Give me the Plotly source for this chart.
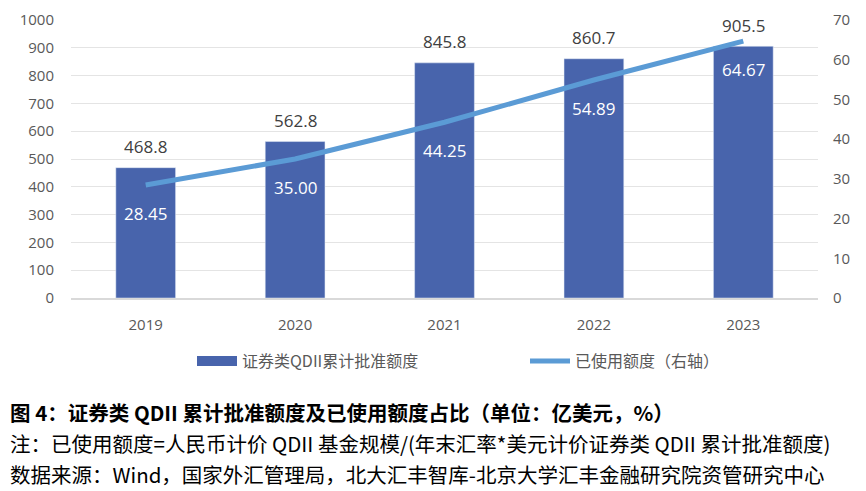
import plotly.graph_objects as go

years = ["2019", "2020", "2021", "2022", "2023"]
approved = [468.8, 562.8, 845.8, 860.7, 905.5]
used_pct = [28.45, 35.00, 44.25, 54.89, 64.67]
used_labels = ["28.45", "35.00", "44.25", "54.89", "64.67"]
left_ticks = list(range(0, 1001, 100))
right_ticks = list(range(0, 71, 10))

bar_color = "#4864AC"
line_color = "#5B9BD5"
num_font = "Open Sans, Noto Sans"
tick_font = dict(family=num_font, size=15, color="#595959")

# page has an 8px body margin, so the figure is placed at (8, 8)
OFF = 8
PLOT_L, PLOT_T, PLOT_W, PLOT_H = 71, 20, 747, 278


def px(xpage):
    return (xpage - PLOT_L) / PLOT_W


def py(ypage):
    return (PLOT_T + PLOT_H - ypage) / PLOT_H


fig = go.Figure()
fig.add_trace(go.Bar(
    x=years, y=approved, name="证券类QDII累计批准额度",
    marker=dict(color=bar_color), width=0.4, showlegend=False,
))
# legend entry drawn as a wide block like the original
fig.add_trace(go.Scatter(
    x=[None], y=[None], name="证券类QDII累计批准额度",
    mode="lines", line=dict(color=bar_color, width=10),
))
fig.add_trace(go.Scatter(
    x=years, y=used_pct, name="已使用额度（右轴）", yaxis="y2",
    mode="lines", line=dict(color=line_color, width=5),
))

annotations = []
# bar value labels above the bars
for i, v in enumerate(approved):
    annotations.append(dict(
        x=i, y=v, xref="x", yref="y", text=f"{v:.1f}", showarrow=False,
        yshift=21, font=dict(family=num_font, size=17, color="#404040"),
    ))
# line value labels in white under the line
for i, (v, t) in enumerate(zip(used_pct, used_labels)):
    annotations.append(dict(
        x=i, y=v, xref="x", yref="y2", text=t, showarrow=False,
        yshift=-28, font=dict(family=num_font, size=17, color="white"),
    ))

caption_font = "Noto Sans CJK SC"
captions = [
    ("<b>图 4：证券类 QDII 累计批准额度及已使用额度占比（单位：亿美元，%）</b>", 412),
    ("注：已使用额度=人民币计价 QDII 基金规模/(年末汇率*美元计价证券类 QDII 累计批准额度)", 443),
    ("数据来源：Wind，国家外汇管理局，北大汇丰智库-北京大学汇丰金融研究院资管研究中心", 474),
]
for text, ypx in captions:
    annotations.append(dict(
        x=px(OFF), y=py(ypx), xref="paper", yref="paper",
        xanchor="left", yanchor="middle",
        text=text, showarrow=False, align="left",
        font=dict(family=caption_font, size=20.5, color="#000000"),
    ))

fig.update_layout(
    width=866 - OFF, height=491 - OFF,
    margin=dict(l=PLOT_L - OFF, r=866 - PLOT_L - PLOT_W, t=PLOT_T - OFF,
                b=491 - PLOT_T - PLOT_H, autoexpand=False),
    paper_bgcolor="white", plot_bgcolor="white",
    showlegend=True,
    legend=dict(
        orientation="h", x=px(192), xanchor="left",
        y=py(361), yanchor="middle",
        font=dict(family="Noto Sans CJK SC", size=16, color="#595959"),
        itemwidth=40, entrywidth=278, entrywidthmode="pixels",
    ),
    xaxis=dict(
        type="category", showline=True, linecolor="#D9D9D9", linewidth=1.5,
        tickfont=tick_font, ticklabelstandoff=12, showgrid=False, automargin=False,
    ),
    yaxis=dict(
        range=[0, 1000], tickvals=left_ticks, showgrid=True, gridcolor="#E4E4E4",
        gridwidth=1.2, tickfont=tick_font, ticklabelstandoff=16, zeroline=False,
        automargin=False, ticklabeloverflow="allow",
    ),
    yaxis2=dict(
        range=[0, 70], tickvals=right_ticks, overlaying="y", side="right",
        showgrid=False, tickfont=tick_font, ticklabelstandoff=14, zeroline=False,
        automargin=False, ticklabeloverflow="allow",
    ),
    annotations=annotations,
)

fig.write_html("out.html")
